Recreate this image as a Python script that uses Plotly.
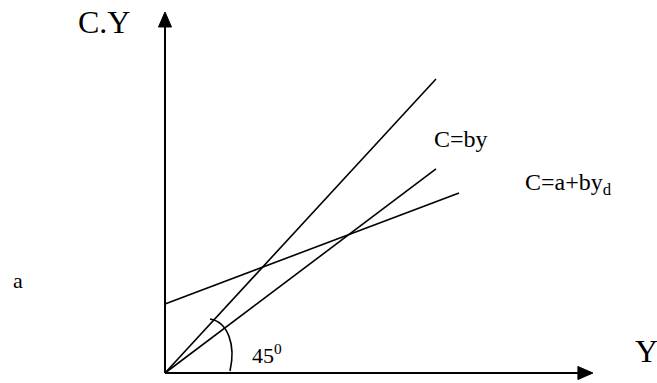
import plotly.graph_objects as go

# ---- data (diagram units: income Y on x, consumption C on y) ----
line45_y = [0, 10]
line45_c = [0, 10]
cby_y = [0, 10]
cby_c = [0, 6.94]
caby_y = [0, 10.85]
caby_c = [2.35, 6.12]
axis_x_tip = 15.79
axis_y_tip = 12.28

# pixel -> data helper (origin at pixel 165,373)
SX, SY, OX, OY = 27.1, 29.4, 165, 373
def d(px, py):
    return (px - OX) / SX, (OY - py) / SY

fig = go.Figure()
lw = 1.6
for xs, ys in [(line45_y, line45_c), (cby_y, cby_c), (caby_y, caby_c)]:
    fig.add_trace(go.Scatter(x=xs, y=ys, mode="lines",
                             line=dict(color="black", width=lw),
                             showlegend=False, hoverinfo="skip"))

# axes with arrowheads
HL, HW = 15 , 6.5  # head length / half width in px
# vertical axis
fig.add_shape(type="line", xref="x", yref="y", x0=0, y0=0, x1=0,
              y1=axis_y_tip - HL / SY, line=dict(color="black", width=2))
fig.add_shape(type="path", xref="x", yref="y",
              path=(f"M 0,{axis_y_tip} L {-HW / SX},{axis_y_tip - HL / SY} "
                    f"L {HW / SX},{axis_y_tip - HL / SY} Z"),
              fillcolor="black", line=dict(color="black", width=1))
# horizontal axis
fig.add_shape(type="line", xref="x", yref="y", x0=0, y0=0,
              x1=axis_x_tip - HL / SX, y1=0, line=dict(color="black", width=2))
fig.add_shape(type="path", xref="x", yref="y",
              path=(f"M {axis_x_tip},0 L {axis_x_tip - HL / SX},{HW / SY} "
                    f"L {axis_x_tip - HL / SX},{-HW / SY} Z"),
              fillcolor="black", line=dict(color="black", width=1))

# 45 degree arc
p0 = d(210, 319); c1 = d(228, 322); c2 = d(236, 345); p1 = d(230, 371)
fig.add_shape(type="path", xref="x", yref="y",
              path=f"M {p0[0]},{p0[1]} C {c1[0]},{c1[1]} {c2[0]},{c2[1]} {p1[0]},{p1[1]}",
              line=dict(color="black", width=1.6))

font = "Liberation Serif, Times New Roman, serif"
def label(text, px, py, size):
    x, y = d(px, py)
    fig.add_annotation(x=x, y=y, xref="x", yref="y", text=text, showarrow=False,
                       xanchor="center", yanchor="middle",
                       font=dict(family=font, size=size, color="black"))

label("C.Y", 103.5, 22, 32)
label("Y", 646, 351, 32)
label("C=by", 461, 139, 24)
label("C=a+by<sub>d</sub>", 568, 184, 24)
label("45<sup>0</sup>", 267, 354, 22)
label("a", 18, 280, 22)

x0, _ = d(0, 0); x1, _ = d(657, 0)
_, y0 = d(0, 383); _, y1 = d(0, 0)
fig.update_xaxes(range=[x0, x1], visible=False)
fig.update_yaxes(range=[y0, y1], visible=False)
fig.update_layout(width=657, height=383, margin=dict(l=0, r=0, t=0, b=0),
                  paper_bgcolor="white", plot_bgcolor="white")
fig.write_html("out.html", config={"displayModeBar": False},
               post_script="document.body.style.margin='0';document.body.style.overflow='hidden';")
